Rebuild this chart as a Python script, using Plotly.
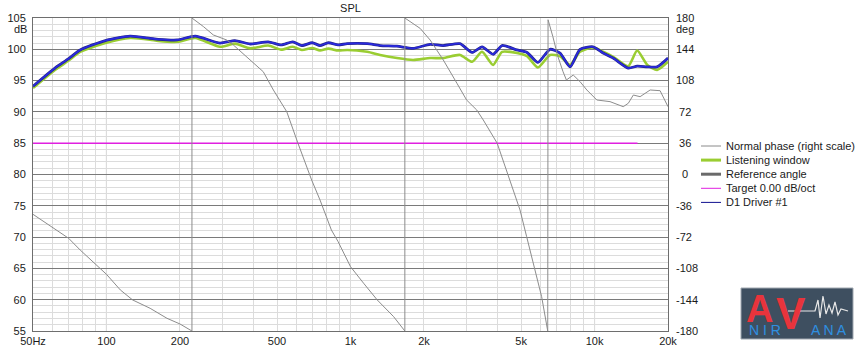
import math
import plotly.graph_objects as go

FONT = "Liberation Sans, Arial, sans-serif"
FS = 11

# ---------------- data ----------------
freq = [50, 61.5, 70, 78, 99, 125, 151, 163, 195, 231, 292, 336, 388, 460, 520, 580, 632,
        697, 750, 811, 890, 970, 1171, 1322, 1550, 1805, 2120, 2395, 2810, 3150, 3460,
        3840, 4180, 4810, 5290, 5860, 6570, 7220, 7940, 8720, 9860, 10840, 11920, 13740,
        14950, 16450, 18050, 20000]
d1_db = [94.1, 97.0, 98.5, 99.9, 101.4, 102.1, 101.75, 101.6, 101.5, 102.1, 101.0, 101.4,
         100.85, 101.2, 100.7, 101.2, 100.6, 101.05, 100.6, 101.05, 100.7, 100.9, 100.9,
         100.6, 100.5, 100.15, 100.8, 100.6, 100.9, 99.5, 100.4, 99.2, 100.6, 99.9, 99.5,
         97.9, 100.0, 99.4, 97.2, 100.0, 100.4, 99.4, 98.6, 97.0, 97.3, 97.2, 97.2, 98.6]
lw_db = [93.8, 96.7, 98.2, 99.6, 101.0, 101.8, 101.55, 101.35, 101.2, 101.8, 100.4, 100.9,
         100.15, 100.6, 99.95, 100.4, 99.9, 100.2, 99.8, 100.1, 99.8, 99.9, 99.6, 99.1,
         98.6, 98.3, 98.6, 98.6, 99.1, 98.0, 99.6, 97.5, 99.6, 99.4, 98.9, 97.1, 99.1,
         98.9, 97.5, 99.6, 100.3, 99.6, 98.8, 97.3, 99.8, 97.5, 96.7, 98.0]

phase_freq = [50, 60, 70, 78, 100, 114, 128, 151, 177, 200, 224,
              224, 250, 274, 311, 331, 376, 439, 483, 548, 609, 693, 750, 835, 890, 1000,
              1131, 1287, 1502, 1670,
              1670, 1720, 1930, 2120, 2400, 2730, 2990, 3290, 3500, 3990, 4500, 4950, 5270,
              5600, 6070, 6430,
              6430, 6450, 6750, 7080, 7430, 7670, 8180, 8720, 9300, 10220, 11570, 13110,
              13750, 14420, 15370, 16900, 18560, 20000]
phase_deg = [-45.8, -60.7, -73.4, -86.8, -114.8, -132.8, -144.3, -153.9, -165.4, -171.9, -180,
             180, 170, 160.5, 154.7, 149, 135.5, 118.2, 97.2, 72.2, 36, -6.3, -29.3, -63.8,
             -77.3, -106, -125, -144.3, -163.5, -180,
             180, 177.7, 168, 154.7, 131.7, 104.9, 85.7, 74.2, 62.7, 36, -6.3, -40.8, -71.5,
             -102, -140.5, -180,
             -180, 178, 158.5, 135.5, 118.2, 108.7, 114.4, 106.8, 97.2, 85.7, 83.8, 78,
             81.9, 91.4, 89.5, 97.2, 96.4, 78]

target_freq = [50, 15000]
target_db = [85, 85]

x_tick_vals = [50, 100, 200, 500, 1000, 2000, 5000, 10000, 20000]
x_tick_text = ["50Hz", "100", "200", "500", "1k", "2k", "5k", "10k", "20k"]
x_minor_vals = [60, 70, 80, 90, 300, 400, 600, 700, 800, 900, 3000, 4000, 6000, 7000,
                8000, 9000]
x_dark_grid = [100, 1000, 10000]

y2_tick_vals = [-180, -144, -108, -72, -36, 0, 36, 72, 108, 144, 180]
y2_tick_text = ["-180", "-144", "-108", "-72", "-36", "\u00a0\u00a00", "\u00a036",
                "\u00a072", "108", "144", "180"]

legend_names = ["Normal phase (right scale)", "Listening window", "Reference angle",
                "Target 0.00 dB/oct", "D1 Driver #1"]
legend_colors = ["#8a8a8a", "#9acd32", "#6a6a6a", "#e020e0", "#101090"]
legend_widths = [1, 3, 3, 1, 1]

# ---------------- geometry helpers (pixel -> paper) ----------------
W, H = 864, 350
L, R, T, B = 33, 196, 18, 19
PW, PH = W - L - R, H - T - B


def px(x):
    return (x - L) / PW


def py(y):
    return (H - B - y) / PH


GREEN = "#9acd32"
BLUE = "#2a2ae0"

fig = go.Figure()
fig.add_trace(go.Scatter(x=freq, y=lw_db, mode="lines", name="Listening window",
                         line=dict(color=GREEN, width=2.6, shape="spline", smoothing=0.6),
                         showlegend=False))
fig.add_trace(go.Scatter(x=freq, y=d1_db, mode="lines", name="Reference angle",
                         line=dict(color="#24248a", width=2.8, shape="spline", smoothing=0.6),
                         showlegend=False))
fig.add_trace(go.Scatter(x=freq, y=d1_db, mode="lines", name="D1 Driver #1",
                         line=dict(color=BLUE, width=1.6, shape="spline", smoothing=0.6),
                         showlegend=False))
fig.add_trace(go.Scatter(x=target_freq, y=target_db, mode="lines", name="Target 0.00 dB/oct",
                         line=dict(color="#e020e0", width=1.5), showlegend=False))
fig.add_trace(go.Scatter(x=phase_freq, y=phase_deg, mode="lines", yaxis="y2",
                         name="Normal phase (right scale)",
                         line=dict(color="#8c8c8c", width=1), showlegend=False))

tickfont = dict(family=FONT, size=FS, color="#1a1a1a")

fig.update_layout(
    width=W, height=H,
    margin=dict(l=L, r=R, t=T, b=B, autoexpand=False),
    paper_bgcolor="white", plot_bgcolor="white",
    showlegend=False, hovermode=False,
    title=dict(text="SPL", x=0.5, xref="paper", xanchor="center",
               y=1 - 8 / H, yref="container", yanchor="middle",
               font=dict(family=FONT, size=FS, color="#1a1a1a")),
    xaxis=dict(type="log", range=[math.log10(50), math.log10(20000)], automargin=False,
               tickmode="array", tickvals=x_tick_vals, ticktext=x_tick_text,
               showgrid=True, gridcolor="#dcdcdc", gridwidth=1,
               minor=dict(tickmode="array", tickvals=x_minor_vals, showgrid=True,
                          gridcolor="#dcdcdc", gridwidth=1, ticks=""),
               ticks="", tickfont=tickfont, showline=True, linecolor="#6e6e6e",
               linewidth=1, mirror=True, zeroline=False, ticklabelstandoff=0),
    yaxis=dict(range=[55, 105], tick0=55, dtick=5, showgrid=True, gridcolor="#7a7a7a",
               gridwidth=1, automargin=False,
               minor=dict(dtick=1, showgrid=True, gridcolor="#dcdcdc",
                          gridwidth=1, ticks=""),
               ticks="", tickfont=tickfont, showline=True, linecolor="#6e6e6e",
               linewidth=1, mirror=True, zeroline=False, ticklabelstandoff=4),
    yaxis2=dict(range=[-180, 180], overlaying="y", side="right", tickmode="array",
                tickvals=y2_tick_vals, ticktext=y2_tick_text, showgrid=False,
                automargin=False,
                ticks="", tickfont=tickfont, showline=False, zeroline=False,
                ticklabelstandoff=7),
)

# dark decade grid lines (above light grid, below traces)
for f in x_dark_grid:
    fig.add_shape(type="line", xref="x", yref="paper", x0=f, x1=f, y0=0, y1=1,
                  line=dict(color="#7a7a7a", width=1), layer="between")

# axis unit labels
fig.add_annotation(text="dB", x=px(29), y=py(28.5), xref="paper", yref="paper",
                   xanchor="right", yanchor="middle", showarrow=False,
                   font=dict(family=FONT, size=FS, color="#1a1a1a"))
fig.add_annotation(text="deg", x=px(685), y=py(28.5), xref="paper", yref="paper",
                   xanchor="center", yanchor="middle", showarrow=False,
                   font=dict(family=FONT, size=FS, color="#1a1a1a"))

# manual legend (compact rows like the original)
for i, (name, col, wd) in enumerate(zip(legend_names, legend_colors, legend_widths)):
    yy = 146 + i * 14.1
    fig.add_shape(type="line", xref="paper", yref="paper", x0=px(701), x1=px(721),
                  y0=py(yy), y1=py(yy), line=dict(color=col, width=wd))
    fig.add_annotation(text=name, x=px(724), y=py(yy), xref="paper", yref="paper",
                       xanchor="left", yanchor="middle", showarrow=False,
                       font=dict(family=FONT, size=FS, color="#1a1a1a"))

# AV Nirvana logo (decoration)
fig.add_shape(type="rect", xref="paper", yref="paper", x0=px(741), x1=px(853),
              y0=py(339), y1=py(288), fillcolor="#3e4f60",
              line=dict(color="#a0a8b0", width=1))
fig.add_annotation(text="<b>A</b>", x=px(759), y=py(309), xref="paper", yref="paper",
                   showarrow=False, xanchor="center", yanchor="middle",
                   font=dict(family="Liberation Sans, Arial", size=38, color="#e8343c"))
fig.add_annotation(text="<b>V</b>", x=px(791), y=py(313), xref="paper", yref="paper",
                   showarrow=False, xanchor="center", yanchor="middle",
                   font=dict(family="Liberation Sans, Arial", size=44, color="#e8343c"))
fig.add_annotation(text="N I R", x=px(765), y=py(330), xref="paper", yref="paper",
                   showarrow=False, xanchor="center", yanchor="middle",
                   font=dict(family="Liberation Sans, Arial", size=14, color="#2f8fe0"))
fig.add_annotation(text="A N A", x=px(829), y=py(330), xref="paper", yref="paper",
                   showarrow=False, xanchor="center", yanchor="middle",
                   font=dict(family="Liberation Sans, Arial", size=14, color="#2f8fe0"))
wave = [(788, 311), (815, 311), (818, 300), (820, 318), (823, 296), (826, 314),
        (829, 305), (832, 313), (835, 302), (838, 315), (841, 309), (848, 311)]
path = "M " + " L ".join(f"{px(a):.4f},{py(b):.4f}" for a, b in wave)
fig.add_shape(type="path", xref="paper", yref="paper", path=path,
              line=dict(color="#e8e8e8", width=1.2))

# remove the default 8px page margin so the figure sits at the window's top-left
fig.write_html("out.html", config={"displayModeBar": False},
               post_script="document.body.style.margin='0';document.body.style.overflow='hidden';")
